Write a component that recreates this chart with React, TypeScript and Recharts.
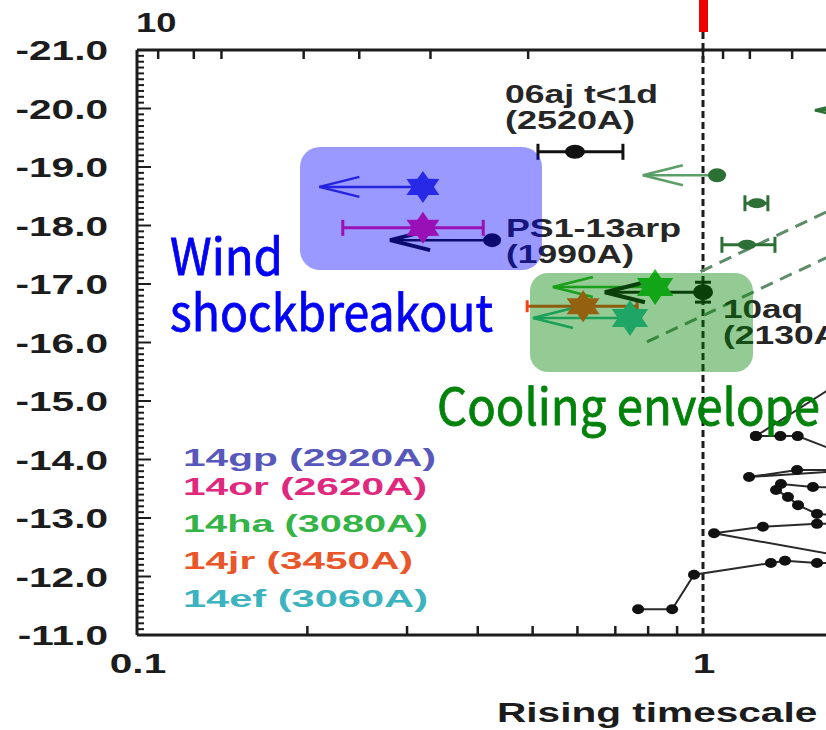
import React from 'react';
import { ComposedChart, XAxis, YAxis, Scatter, Line, ErrorBar, ReferenceLine } from 'recharts';

// Rise time to peak (days, log) against peak absolute magnitude
const X_TICKS_BOTTOM = [0.1, 0.2, 0.3, 0.4, 0.5, 0.6, 0.7, 0.8, 0.9, 1, 2, 3, 4, 5, 6, 7, 8, 9, 10];
const X_TICKS_TOP = [0.109, 0.126, 0.141, 0.197, 0.247, 0.33, 0.491, 1, 1.085, 1.21, 1.437];
const X_LABELS: Record<string, string> = { '0.1': '0.1', '1': '1', '10': '10' };
const Y_MAJOR = [-21, -20, -19, -18, -17, -16, -15, -14, -13, -12, -11];
const Y_TICKS = Y_MAJOR.flatMap((m, i) =>
  i === 0 ? [m] : Array.from({ length: 10 }, (_, k) => +(Y_MAJOR[i - 1] + (k + 1) / 10).toFixed(1))
);

// detections with rise-time error [minus, plus]
const sn06aj = [{ t: 0.594, mag: -19.26, tErr: [0.083, 0.128] }];
const sn14or = [{ t: 0.32, mag: -17.96, tErr: [0.089, 0.089] }];
const sn14jr = [{ t: 0.614, mag: -16.62, tErr: [0.125, 0.151] }];
const sn10aq = [{ t: 1.0, mag: -16.86, mErr: [0.17, 0.17] }];
const ps13arp = [{ t: 0.424, mag: -17.75 }];
const sn14gp = [{ t: 0.32, mag: -18.66 }];
const sn14ha = [{ t: 0.823, mag: -16.95 }];
const sn14ef = [{ t: 0.743, mag: -16.42 }];

// upper limits on rise time: [point, arrow tip]
const gpLimit = [{ t: 0.32, mag: -18.66 }, { t: 0.21, mag: -18.66 }];
const arpLimit = [{ t: 0.424, mag: -17.75 }, { t: 0.28, mag: -17.75 }];
const haLimit = [{ t: 0.823, mag: -16.95 }, { t: 0.543, mag: -16.95 }];
const aqLimit = [{ t: 1.0, mag: -16.86 }, { t: 0.671, mag: -16.86 }];
const efLimit = [{ t: 0.743, mag: -16.42 }, { t: 0.501, mag: -16.42 }];

// comparison sample (dark green)
const cmpPoint = [{ t: 1.059, mag: -18.86 }];
const cmpLimit = [{ t: 1.059, mag: -18.86 }, { t: 0.783, mag: -18.86 }];
const cmpLimit2 = [{ t: 2.3, mag: -19.97 }, { t: 1.577, mag: -19.97 }];
const cmpErr = [
  { t: 1.245, mag: -18.38, tErr: [0.059, 0.057] },
  { t: 1.196, mag: -17.67, tErr: [0.116, 0.144] },
];
const modelHi = [{ t: 0.99, mag: -17.21 }, { t: 2.23, mag: -18.83 }];
const modelLo = [{ t: 0.796, mag: -16.01 }, { t: 2.23, mag: -18.04 }];

// long-rise light curves (black tracks)
const trackA = [
  { t: 0.768, mag: -11.44 }, { t: 0.882, mag: -11.44 }, { t: 0.964, mag: -12.03 },
  { t: 1.318, mag: -12.23 }, { t: 1.396, mag: -12.27 }, { t: 1.59, mag: -12.23 }, { t: 2.0, mag: -12.24 },
];
const trackB = [
  { t: 2.0, mag: -12.25 }, { t: 1.046, mag: -12.74 }, { t: 1.276, mag: -12.85 },
  { t: 1.59, mag: -12.9 }, { t: 2.0, mag: -12.92 },
];
const trackC = [
  { t: 2.0, mag: -13.84 }, { t: 1.206, mag: -13.7 }, { t: 1.466, mag: -13.82 }, { t: 2.0, mag: -13.82 },
];
const trackD = [
  { t: 2.0, mag: -13.5 }, { t: 1.564, mag: -13.53 }, { t: 1.373, mag: -13.58 }, { t: 1.346, mag: -13.48 },
  { t: 1.413, mag: -13.36 }, { t: 1.472, mag: -13.22 }, { t: 1.59, mag: -13.07 }, { t: 2.0, mag: -13.0 },
];
const trackE = [
  { t: 1.24, mag: -14.4 }, { t: 1.37, mag: -14.4 }, { t: 1.47, mag: -14.4 }, { t: 2.0, mag: -13.9 },
];
const trackF = [{ t: 1.24, mag: -14.4 }, { t: 2.0, mag: -15.68 }];
const tracks = [trackA, trackB, trackC, trackD, trackE, trackF];

const legendItems = [
  { label: '14gp (2920A)', color: '#5858bc', width: 253 },
  { label: '14or (2620A)', color: '#e0287e', width: 244 },
  { label: '14ha (3080A)', color: '#34b446', width: 245 },
  { label: '14jr (3450A)', color: '#e9562a', width: 230 },
  { label: '14ef (3060A)', color: '#3cb4c0', width: 245 },
];
const legendBaselines = [466, 495, 532, 569, 607];

const INK = '#1c1c1c';
const AXIS_FONT = '"Liberation Sans", Arial, sans-serif';
const DARK_GREEN = '#2d7036';

function hexagram(cx: number, cy: number, rx: number, ry: number) {
  const pts: string[] = [];
  for (let i = 0; i < 12; i++) {
    const a = (-90 + i * 30) * (Math.PI / 180);
    const r = i % 2 === 0 ? 1 : 0.58;
    pts.push(`${cx + Math.cos(a) * rx * r},${cy + Math.sin(a) * ry * r}`);
  }
  return pts.join(' ');
}

const star = (color: string, rx = 19, ry = 16) => (p: any) => (
  <polygon points={hexagram(p.cx, p.cy, rx, ry)} fill={color} />
);
const dotShape = (color: string, rx = 10, ry = 7) => (p: any) => (
  <ellipse cx={p.cx} cy={p.cy} rx={rx} ry={ry} fill={color} />
);
const arrowHead = (color: string, w = 2.5) => (p: any) =>
  p.index === 1 ? (
    <path key={p.index} d={`M${p.cx + 40},${p.cy - 10}L${p.cx},${p.cy}L${p.cx + 40},${p.cy + 10}`}
      fill="none" stroke={color} strokeWidth={w} />
  ) : (
    <g key={p.index} />
  );
const trackDot = (p: any) => <ellipse key={p.index} cx={p.cx} cy={p.cy} rx={6} ry={5} fill="#111" />;

function LeftTick({ x, y, payload }: any) {
  const v = payload.value;
  const major = Math.abs(v - Math.round(v)) < 1e-6;
  return (
    <g>
      <line x1={x} x2={x + (major ? 14 : 7)} y1={y} y2={y} stroke={INK} strokeWidth={2} />
      {major && (
        <text transform={`translate(${x - 29},${y + 10}) scale(1.45,1)`} textAnchor="end"
          fontFamily={AXIS_FONT} fontWeight={700} fontSize={28} fill={INK}>
          {v.toFixed(1)}
        </text>
      )}
    </g>
  );
}

function BottomTick({ x, y, payload }: any) {
  const label = X_LABELS[String(payload.value)];
  return (
    <g>
      {!label && <line x1={x} x2={x} y1={y} y2={y - 9} stroke={INK} strokeWidth={2.5} />}
      {label && (
        <text transform={`translate(${x + 1},${y + 38}) scale(1.45,1)`} textAnchor="middle"
          fontFamily={AXIS_FONT} fontWeight={700} fontSize={28} fill={INK}>
          {label}
        </text>
      )}
    </g>
  );
}

function TopTick({ x, y }: any) {
  return <line x1={x} x2={x} y1={y} y2={y + 9} stroke={INK} strokeWidth={2.5} />;
}

const Label = ({ x, y, w, children, fill = '#262626', size = 25 }: any) => (
  <text x={x} y={y} textLength={w} lengthAdjust="spacingAndGlyphs" fontFamily={AXIS_FONT}
    fontWeight={700} fontSize={size} fill={fill}>
    {children}
  </text>
);

export default function App() {
  return (
    <div style={{ position: 'absolute', left: 0, top: 0, width: 826, height: 730, overflow: 'hidden', background: '#fff' }}>
      <ComposedChart width={1289} height={730} margin={{ top: 49, right: 20, left: 37, bottom: 35 }}>
        <XAxis dataKey="t" type="number" scale="log" domain={[0.1, 10]} allowDataOverflow
          ticks={X_TICKS_BOTTOM} interval={0} tickLine={false} tickSize={0} tickMargin={0} height={60}
          axisLine={{ stroke: INK, strokeWidth: 3 }} tick={<BottomTick />} />
        <XAxis xAxisId="top" orientation="top" dataKey="t" type="number" scale="log" domain={[0.1, 10]}
          allowDataOverflow ticks={X_TICKS_TOP} interval={0} tickLine={false} tickSize={0} tickMargin={0}
          height={1} axisLine={{ stroke: INK, strokeWidth: 3 }} tick={<TopTick />} />
        <YAxis dataKey="mag" type="number" domain={[-21, -11]} reversed allowDataOverflow
          ticks={Y_TICKS} interval={0} tickLine={false} tickSize={0} tickMargin={0} width={100}
          axisLine={{ stroke: INK, strokeWidth: 3 }} tick={<LeftTick />} />

        <ReferenceLine x={1} stroke={INK} strokeWidth={3} strokeDasharray="7 4" />

        {[modelHi, modelLo].map((d, i) => (
          <Line key={`model-${i}`} data={d} dataKey="mag" stroke="#5f8c68" strokeWidth={3}
            strokeDasharray="13 8" dot={false} activeDot={false} isAnimationActive={false} />
        ))}

        {tracks.map((d, i) => (
          <Line key={`track-${i}`} data={d} dataKey="mag" stroke="#2a2a2a" strokeWidth={2}
            dot={trackDot} activeDot={false} isAnimationActive={false} />
        ))}

        <Line data={cmpLimit} dataKey="mag" stroke="#5c9e68" strokeWidth={2.5} dot={arrowHead('#5c9e68')}
          activeDot={false} isAnimationActive={false} />
        <Line data={cmpLimit2} dataKey="mag" stroke={DARK_GREEN} strokeWidth={2.5} dot={arrowHead(DARK_GREEN)}
          activeDot={false} isAnimationActive={false} />
        <Scatter data={cmpPoint} shape={dotShape(DARK_GREEN, 9, 7)} isAnimationActive={false} />
        <Scatter data={cmpErr} shape={dotShape(DARK_GREEN, 9, 5)} isAnimationActive={false}>
          <ErrorBar dataKey="tErr" direction="x" width={8} stroke={DARK_GREEN} strokeWidth={3} />
        </Scatter>

        <Line data={gpLimit} dataKey="mag" stroke="#3c3cc8" strokeWidth={2.5} dot={arrowHead('#3c3cc8')}
          activeDot={false} isAnimationActive={false} />
        <Line data={arpLimit} dataKey="mag" stroke="#111" strokeWidth={2.5} dot={arrowHead('#111', 4)}
          activeDot={false} isAnimationActive={false} />
        <Line data={aqLimit} dataKey="mag" stroke="#111" strokeWidth={3} dot={arrowHead('#111', 4)}
          activeDot={false} isAnimationActive={false} />
        <Line data={haLimit} dataKey="mag" stroke="#2bb52b" strokeWidth={2.5} dot={arrowHead('#2bb52b')}
          activeDot={false} isAnimationActive={false} />
        <Line data={efLimit} dataKey="mag" stroke="#30b79a" strokeWidth={2.5} dot={arrowHead('#30b79a')}
          activeDot={false} isAnimationActive={false} />

        <Scatter data={sn06aj} shape={dotShape('#111', 10, 7)} isAnimationActive={false}>
          <ErrorBar dataKey="tErr" direction="x" width={8} stroke="#111" strokeWidth={3} />
        </Scatter>
        <Scatter data={ps13arp} shape={dotShape('#111', 9, 7)} isAnimationActive={false} />
        <Scatter data={sn10aq} shape={dotShape('#111', 10, 8)} isAnimationActive={false}>
          <ErrorBar dataKey="mErr" direction="y" width={8} stroke="#111" strokeWidth={3} />
        </Scatter>
        <Scatter data={sn14gp} shape={star('#4444d8')} isAnimationActive={false} />
        <Scatter data={sn14or} shape={star('#ff1c88')} isAnimationActive={false}>
          <ErrorBar dataKey="tErr" direction="x" width={8} stroke="#ff1c88" strokeWidth={3} />
        </Scatter>
        <Scatter data={sn14ha} shape={star('#22c02a', 21, 18)} isAnimationActive={false} />
        <Scatter data={sn14jr} shape={star('#ff4a1c', 19, 16)} isAnimationActive={false}>
          <ErrorBar dataKey="tErr" direction="x" width={6} stroke="#f04418" strokeWidth={3} />
        </Scatter>
        <Scatter data={sn14ef} shape={star('#36c0b0', 21, 18)} isAnimationActive={false} />
      </ComposedChart>

      <svg width={826} height={730} style={{ position: 'absolute', left: 0, top: 0, pointerEvents: 'none' }}>
        <rect x={699} y={0} width={9} height={32} fill="#f00000" />
        <line x1={703} x2={703} y1={32} y2={50} stroke={INK} strokeWidth={3} strokeDasharray="7 4" />
        <text transform="translate(136,32) scale(1.3,1)" fontFamily={AXIS_FONT} fontWeight={700} fontSize={28} fill={INK}>
          10
        </text>

        <Label x={505} y={103} w={153}>06aj t&lt;1d</Label>
        <Label x={505} y={129} w={130}>(2520A)</Label>
        <Label x={506} y={237} w={175}>PS1-13arp</Label>
        <Label x={506} y={263} w={128}>(1990A)</Label>
        <Label x={723} y={318} w={80}>10aq</Label>
        <Label x={723} y={344} w={128}>(2130A)</Label>

        <rect x={300} y={147} width={242} height={123} rx={20} fill="rgba(0,0,255,0.4)" />
        <rect x={530} y={273} width={223} height={99} rx={18} fill="rgba(0,128,0,0.42)" />

        <g fontFamily='"Noto Sans CJK SC", "Noto Sans", sans-serif' fontSize={50} strokeWidth={0.8}>
          <text x={170} y={275} textLength={113} lengthAdjust="spacingAndGlyphs" fill="#0000f5" stroke="#0000f5">Wind</text>
          <text x={170} y={331} textLength={323} lengthAdjust="spacingAndGlyphs" fill="#0000f5" stroke="#0000f5">shockbreakout</text>
          <text x={437} y={425} textLength={383} lengthAdjust="spacingAndGlyphs" fill="#00820a" stroke="#00820a">Cooling envelope</text>
        </g>

        {legendItems.map((item, i) => (
          <Label key={item.label} x={183} y={legendBaselines[i]} w={item.width} fill={item.color} size={23}>
            {item.label}
          </Label>
        ))}

        <text transform="translate(497,722) scale(1.45,1)" fontFamily={AXIS_FONT} fontWeight={700} fontSize={28} fill={INK}>
          Rising timescale (days)
        </text>
      </svg>
    </div>
  );
}
